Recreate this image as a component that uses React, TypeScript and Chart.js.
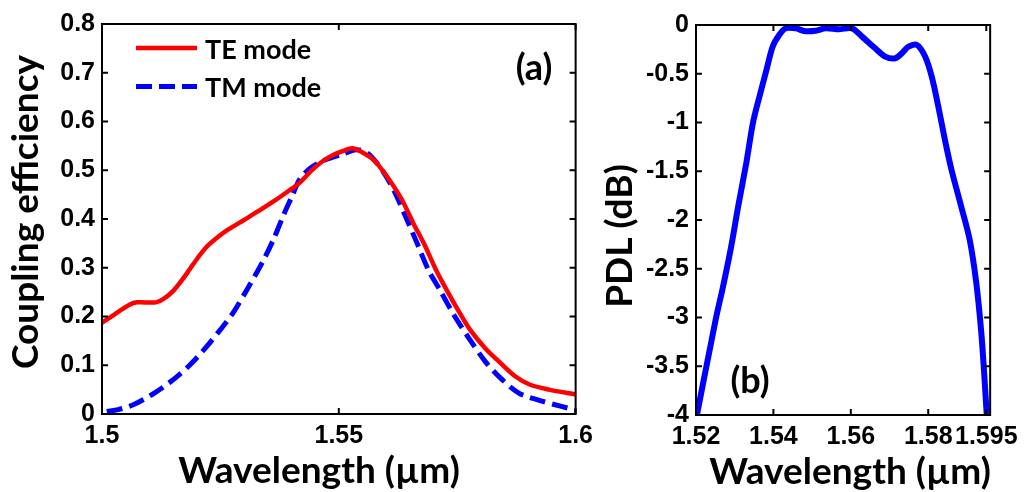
import React, { useEffect, useRef } from 'react';
import { Chart, registerables } from 'chart.js';

Chart.register(...registerables);

// ---------- Panel (a): coupling efficiency ----------
const TE_WL = [1.5, 1.5026, 1.5058, 1.5074, 1.5114, 1.513, 1.515, 1.517, 1.5186, 1.5202, 1.5222, 1.5246, 1.5266, 1.5298, 1.533, 1.5362, 1.5393, 1.5417, 1.5441, 1.5465, 1.5489, 1.5513, 1.5528, 1.5553, 1.5577, 1.5609, 1.5633, 1.5657, 1.5681, 1.5705, 1.5729, 1.5753, 1.5777, 1.5809, 1.5841, 1.5873, 1.5904, 1.5944, 1.6];
const TE_CE = [0.187, 0.204, 0.224, 0.229, 0.229, 0.236, 0.252, 0.276, 0.298, 0.32, 0.344, 0.364, 0.378, 0.397, 0.416, 0.436, 0.457, 0.474, 0.498, 0.518, 0.532, 0.541, 0.545, 0.535, 0.518, 0.477, 0.44, 0.392, 0.347, 0.296, 0.252, 0.211, 0.173, 0.135, 0.105, 0.077, 0.06, 0.05, 0.04];

const TM_WL = [1.501, 1.5034, 1.5066, 1.5106, 1.5146, 1.5186, 1.5218, 1.525, 1.5275, 1.5306, 1.5338, 1.5362, 1.5385, 1.5401, 1.5417, 1.5441, 1.5473, 1.5505, 1.5537, 1.5561, 1.5593, 1.5617, 1.5641, 1.5665, 1.5689, 1.5713, 1.5745, 1.5777, 1.5809, 1.5841, 1.588, 1.592, 1.5968, 1.6];
const TM_CE = [0.005, 0.009, 0.019, 0.04, 0.067, 0.101, 0.135, 0.173, 0.205, 0.255, 0.31, 0.358, 0.412, 0.446, 0.481, 0.505, 0.522, 0.532, 0.542, 0.535, 0.498, 0.457, 0.405, 0.351, 0.296, 0.255, 0.2, 0.152, 0.108, 0.074, 0.043, 0.029, 0.016, 0.008];

const SERIES_LABELS = ['TE mode', 'TM mode'];

const A_XTICKS = [1.5, 1.55, 1.6];
const A_XLABELS = ['1.5', '1.55', '1.6'];
const A_YTICKS = [0, 0.1, 0.2, 0.3, 0.4, 0.5, 0.6, 0.7, 0.8];
const A_YLABELS = ['0', '0.1', '0.2', '0.3', '0.4', '0.5', '0.6', '0.7', '0.8'];
const A_XTITLE = 'Wavelength (µm)';
const A_YTITLE = 'Coupling efficiency';
const A_PANEL = '(a)';

// ---------- Panel (b): PDL ----------
const PDL_WL = [1.5203, 1.5219, 1.5236, 1.5253, 1.527, 1.5291, 1.5309, 1.533, 1.5347, 1.5364, 1.5381, 1.5398, 1.5415, 1.5432, 1.5458, 1.5479, 1.5509, 1.5535, 1.5569, 1.5603, 1.5629, 1.5663, 1.5689, 1.5715, 1.5732, 1.5749, 1.5771, 1.5792, 1.5809, 1.5826, 1.5843, 1.586, 1.5885, 1.5907, 1.5924, 1.5937, 1.5945, 1.5951];
const PDL_DB = [-3.99, -3.66, -3.32, -2.98, -2.68, -2.27, -1.86, -1.415, -1.006, -0.733, -0.477, -0.222, -0.102, -0.034, -0.034, -0.061, -0.058, -0.034, -0.044, -0.034, -0.119, -0.239, -0.324, -0.341, -0.29, -0.222, -0.205, -0.324, -0.529, -0.835, -1.176, -1.483, -1.858, -2.2, -2.64, -3.15, -3.6, -3.99];

const B_XTICKS = [1.52, 1.54, 1.56, 1.58, 1.595];
const B_XLABELS = ['1.52', '1.54', '1.56', '1.58', '1.595'];
const B_YTICKS = [0, -0.5, -1, -1.5, -2, -2.5, -3, -3.5, -4];
const B_YLABELS = ['0', '-0.5', '-1', '-1.5', '-2', '-2.5', '-3', '-3.5', '-4'];
const B_XTITLE = 'Wavelength (µm)';
const B_YTITLE = 'PDL (dB)';
const B_PANEL = '(b)';

const TICK_FONT = { family: "'Liberation Sans', Arial, sans-serif", size: 25, weight: 'bold' as const };
const TITLE_FONT = "bold 37px Lato, 'Open Sans', sans-serif";
const PANEL_FONT = "bold 36px Lato, 'Open Sans', sans-serif";
const LEGEND_FONT = "bold 27px Lato, 'Open Sans', sans-serif";

const framePlugin = {
  id: 'frameTicks',
  afterDatasetsDraw(chart: any) {
    const { ctx, chartArea, scales } = chart;
    const { left, right, top, bottom } = chartArea;
    const tl = 6;
    ctx.save();
    ctx.strokeStyle = '#000';
    ctx.lineWidth = 2;
    ctx.strokeRect(left, top, right - left, bottom - top);
    ctx.beginPath();
    scales.x.ticks.forEach((t: any) => {
      const px = scales.x.getPixelForValue(t.value);
      ctx.moveTo(px, bottom);
      ctx.lineTo(px, bottom - tl);
      ctx.moveTo(px, top);
      ctx.lineTo(px, top + tl);
    });
    scales.y.ticks.forEach((t: any) => {
      const py = scales.y.getPixelForValue(t.value);
      ctx.moveTo(left, py);
      ctx.lineTo(left + tl, py);
      ctx.moveTo(right, py);
      ctx.lineTo(right - tl, py);
    });
    ctx.stroke();
    ctx.restore();
  },
};

const decoPlugin = {
  id: 'deco',
  afterDraw(chart: any, _args: any, opts: any) {
    const { ctx } = chart;
    ctx.save();
    ctx.fillStyle = '#000';
    // x title
    ctx.font = TITLE_FONT;
    ctx.textAlign = 'center';
    ctx.textBaseline = 'alphabetic';
    ctx.fillText(opts.xTitle, opts.xTitlePos[0], opts.xTitlePos[1]);
    // y title
    ctx.save();
    ctx.translate(opts.yTitlePos[0], opts.yTitlePos[1]);
    ctx.rotate(-Math.PI / 2);
    ctx.textBaseline = 'middle';
    ctx.fillText(opts.yTitle, 0, 0);
    ctx.restore();
    // panel label
    ctx.font = PANEL_FONT;
    ctx.textAlign = 'center';
    ctx.textBaseline = 'middle';
    ctx.fillText(opts.panel, opts.panelPos[0], opts.panelPos[1]);
    // legend
    if (opts.legend) {
      const lg = opts.legend;
      chart.data.datasets.forEach((ds: any, i: number) => {
        const y = lg.y0 + i * lg.dy;
        ctx.save();
        ctx.strokeStyle = ds.borderColor;
        ctx.lineWidth = ds.borderWidth;
        ctx.setLineDash(ds.borderDash || []);
        ctx.beginPath();
        ctx.moveTo(lg.x0, y);
        ctx.lineTo(lg.x0 + lg.len, y);
        ctx.stroke();
        ctx.restore();
        ctx.font = LEGEND_FONT;
        ctx.textAlign = 'left';
        ctx.textBaseline = 'alphabetic';
        ctx.fillStyle = '#000';
        ctx.fillText(ds.label, lg.textX, y + lg.textDy);
      });
    }
    ctx.restore();
  },
};

function fixedTicks(values: number[]) {
  return (scale: any) => {
    scale.ticks = values.map((v) => ({ value: v }));
  };
}

function makeScales(xmin: number, xmax: number, ymin: number, ymax: number, xt: number[], xl: string[], yt: number[], yl: string[], yWidth: number, xHeight: number) {
  return {
    x: {
      type: 'linear' as const,
      min: xmin,
      max: xmax,
      afterBuildTicks: fixedTicks(xt),
      afterFit: (s: any) => { s.height = xHeight; },
      grid: { display: false, drawTicks: false },
      border: { display: false },
      ticks: {
        autoSkip: false,
        maxRotation: 0,
        padding: 7,
        color: '#000',
        font: TICK_FONT,
        callback: (_v: any, i: number) => xl[i],
      },
    },
    y: {
      type: 'linear' as const,
      min: ymin,
      max: ymax,
      afterBuildTicks: fixedTicks(yt),
      afterFit: (s: any) => { s.width = yWidth; },
      grid: { display: false, drawTicks: false },
      border: { display: false },
      ticks: {
        autoSkip: false,
        padding: 7,
        color: '#000',
        font: TICK_FONT,
        callback: (_v: any, i: number) => yl[i],
      },
    },
  };
}

function toPoints(xs: number[], ys: number[]) {
  return xs.map((x, i) => ({ x, y: ys[i] }));
}

export default function App() {
  const refA = useRef<HTMLCanvasElement>(null);
  const refB = useRef<HTMLCanvasElement>(null);

  useEffect(() => {
    const chartA = new Chart(refA.current as HTMLCanvasElement, {
      type: 'line',
      data: {
        datasets: [
          {
            label: SERIES_LABELS[0],
            data: toPoints(TE_WL, TE_CE),
            borderColor: '#ff0000',
            borderWidth: 4.5,
            pointRadius: 0,
            tension: 0.3,
            fill: false,
          },
          {
            label: SERIES_LABELS[1],
            data: toPoints(TM_WL, TM_CE),
            borderColor: '#0000ff',
            borderWidth: 5,
            borderDash: [16, 7],
            pointRadius: 0,
            tension: 0.3,
            fill: false,
          },
        ],
      },
      options: {
        responsive: false,
        animation: false,
        layout: { padding: { left: 0, top: 24, right: 19, bottom: 0 } },
        scales: makeScales(1.5, 1.6, 0, 0.8, A_XTICKS, A_XLABELS, A_YTICKS, A_YLABELS, 102, 78) as any,
        plugins: {
          legend: { display: false },
          tooltip: { enabled: false },
          deco: {
            xTitle: A_XTITLE,
            xTitlePos: [319, 483],
            yTitle: A_YTITLE,
            yTitlePos: [26, 212],
            panel: A_PANEL,
            panelPos: [534, 68],
            legend: { x0: 136, len: 61, y0: 48, dy: 38.5, textX: 205, textDy: 10.5 },
          },
        } as any,
      },
      plugins: [framePlugin, decoPlugin],
    });

    const chartB = new Chart(refB.current as HTMLCanvasElement, {
      type: 'line',
      data: {
        datasets: [
          {
            label: 'PDL',
            data: toPoints(PDL_WL, PDL_DB),
            borderColor: '#0000ff',
            borderWidth: 6,
            pointRadius: 0,
            tension: 0.3,
            fill: false,
          },
        ],
      },
      options: {
        responsive: false,
        animation: false,
        layout: { padding: { left: 0, top: 25, right: 33, bottom: 0 } },
        scales: makeScales(1.52, 1.596, -4, 0, B_XTICKS, B_XLABELS, B_YTICKS, B_YLABELS, 96, 77) as any,
        plugins: {
          legend: { display: false },
          tooltip: { enabled: false },
          deco: {
            xTitle: B_XTITLE,
            xTitlePos: [250, 484],
            yTitle: B_YTITLE,
            yTitlePos: [20, 236],
            panel: B_PANEL,
            panelPos: [150, 381],
          },
        } as any,
      },
      plugins: [framePlugin, decoPlugin],
    });

    return () => {
      chartA.destroy();
      chartB.destroy();
    };
  }, []);

  return (
    <div style={{ position: 'fixed', left: 0, top: 0, width: 1025, height: 492, background: '#fff', overflow: 'hidden' }}>
      <canvas ref={refA} width={600} height={492} style={{ position: 'absolute', left: 0, top: 0, width: 600, height: 492 }} />
      <canvas ref={refB} width={425} height={492} style={{ position: 'absolute', left: 600, top: 0, width: 425, height: 492 }} />
    </div>
  );
}
